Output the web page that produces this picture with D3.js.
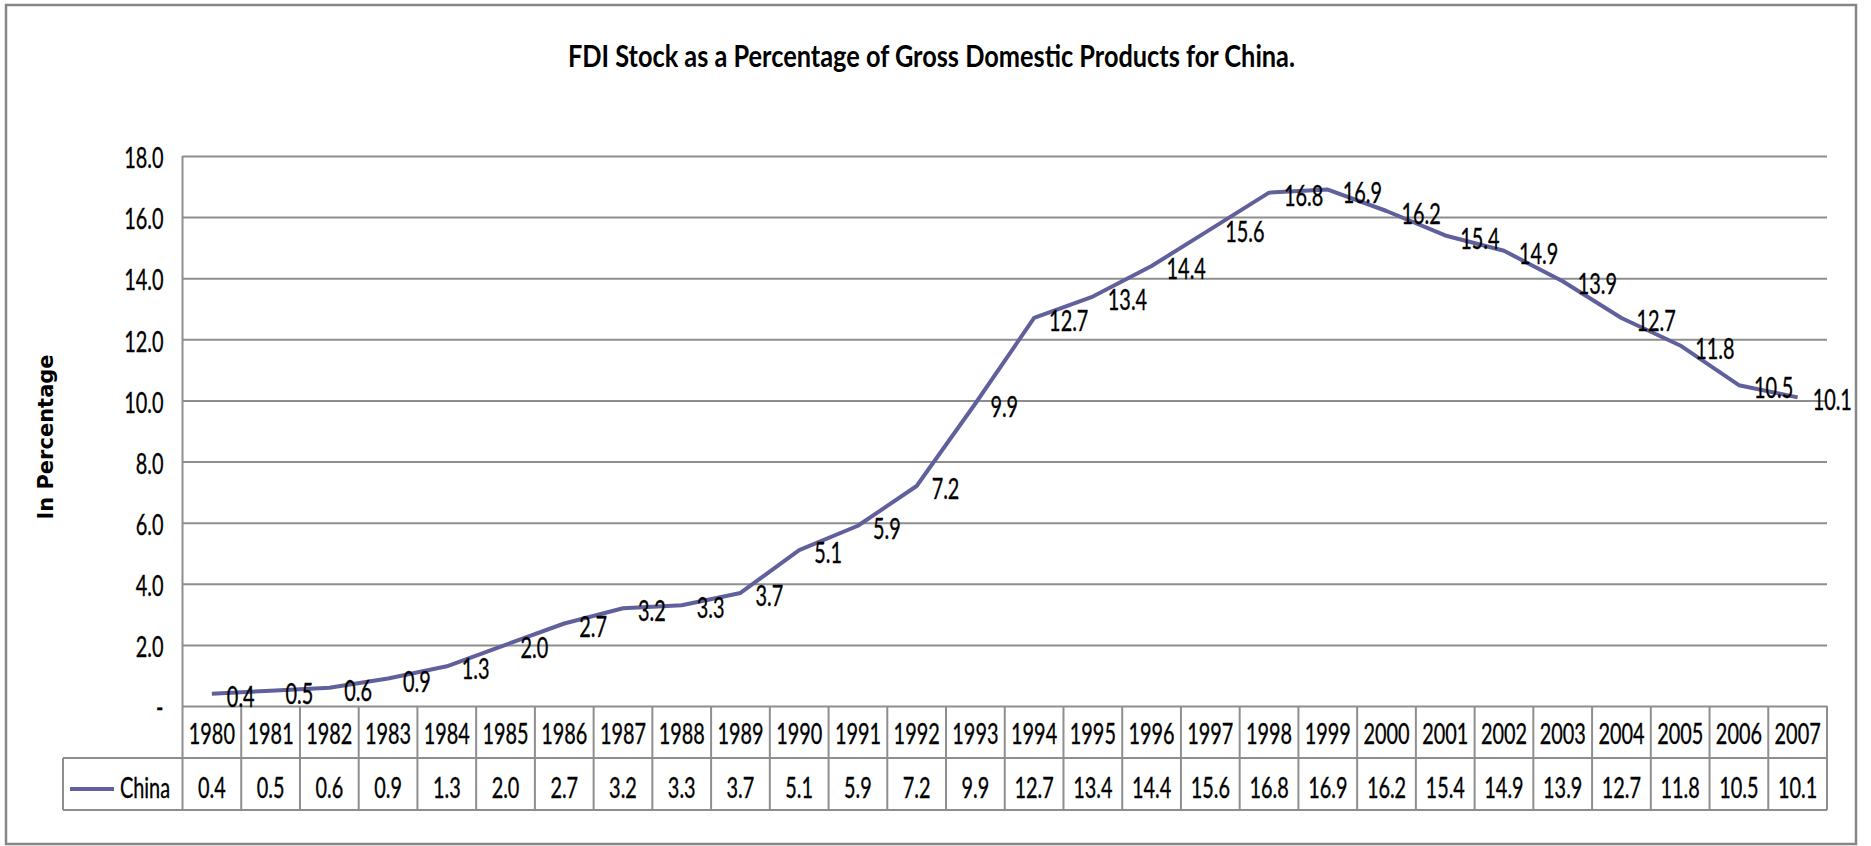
<!DOCTYPE html>
<html>
<head>
<meta charset="utf-8">
<script src="https://cdn.jsdelivr.net/npm/d3@7"></script>
<style>
    body { margin: 0; background: #fff; }
    svg { display: block; }
</style>
</head>
<body>
<svg id="chart"></svg>
<script>
    const years = ["1980", "1981", "1982", "1983", "1984", "1985", "1986", "1987", "1988", "1989",
        "1990", "1991", "1992", "1993", "1994", "1995", "1996", "1997", "1998", "1999",
        "2000", "2001", "2002", "2003", "2004", "2005", "2006", "2007"];
    const china = [0.4, 0.5, 0.6, 0.9, 1.3, 2.0, 2.7, 3.2, 3.3, 3.7,
        5.1, 5.9, 7.2, 9.9, 12.7, 13.4, 14.4, 15.6, 16.8, 16.9,
        16.2, 15.4, 14.9, 13.9, 12.7, 11.8, 10.5, 10.1];
    const yTicks = [0, 2, 4, 6, 8, 10, 12, 14, 16, 18];
    const seriesName = "China";
    const title = "FDI Stock as a Percentage of Gross Domestic Products for China.";
    const yLabel = "In Percentage";

    const svgWidth = 1871;
    const svgHeight = 846;
    const margin = { top: 156, right: 44, bottom: 140, left: 182.5 };
    const rowHeight = 52;
    const lineColor = "#60609c";
    const gridColor = "#8e8e8e";
    const font = "Lato, 'Open Sans', sans-serif";
    const fontSize = 28;
    const squeezeX = 0.71;

    const svg = d3.select("#chart")
        .attr("width", svgWidth)
        .attr("height", svgHeight);

    // squeeze text horizontally (the source text is tall and narrow)
    function squeeze(sel) {
        sel.each(function () {
            const t = d3.select(this);
            const x = +t.attr("x") || 0;
            const y = +t.attr("y") || 0;
            t.attr("x", 0).attr("y", 0)
                .attr("stroke", "#000")
                .attr("stroke-width", 0.35)
                .attr("transform", `translate(${x},${y}) scale(${squeezeX},1)`);
        });
    }

    // outer frame
    svg.append("rect")
        .attr("x", 6).attr("y", 5)
        .attr("width", 1850).attr("height", 839)
        .attr("fill", "none")
        .attr("stroke", "#868686")
        .attr("stroke-width", 2.5);

    svg.append("text")
        .attr("x", 568).attr("y", 66.5)
        .attr("font-family", font)
        .attr("font-weight", "bold")
        .attr("font-size", 30)
        .attr("textLength", 727)
        .attr("lengthAdjust", "spacingAndGlyphs")
        .text(title);

    svg.append("text")
        .attr("transform", "translate(53,437) rotate(-90)")
        .attr("text-anchor", "middle")
        .attr("font-family", "'DejaVu Sans', sans-serif")
        .attr("font-weight", "bold")
        .attr("font-size", 21)
        .text(yLabel);

    const xScale = d3.scaleBand()
        .domain(years)
        .range([margin.left, svgWidth - margin.right])
        .padding(0);

    const yScale = d3.scaleLinear()
        .domain([0, 18])
        .range([svgHeight - margin.bottom, margin.top]);

    const plotBottom = yScale(0);
    const tableBottom = plotBottom + rowHeight * 2;

    // gridlines
    svg.append("g")
        .attr("transform", `translate(${margin.left},0)`)
        .call(d3.axisLeft(yScale).tickValues(yTicks)
            .tickSize(-(svgWidth - margin.right - margin.left)).tickFormat(""))
        .call(g => g.select(".domain").remove())
        .selectAll("line")
        .attr("stroke", gridColor)
        .attr("stroke-width", 2);

    // y tick labels
    const yAxis = svg.append("g")
        .attr("transform", `translate(${margin.left},0)`)
        .call(d3.axisLeft(yScale).tickValues(yTicks).tickSize(0).tickPadding(19)
            .tickFormat(d => d === 0 ? "-" : d3.format(".1f")(d)));
    yAxis.select(".domain").remove();
    yAxis.selectAll("text")
        .attr("font-family", font)
        .attr("font-size", fontSize)
        .attr("fill", "#000")
        .attr("dy", "0.42em")
        .call(squeeze);

    // left axis line down through the year row
    svg.append("line")
        .attr("x1", margin.left).attr("x2", margin.left)
        .attr("y1", margin.top).attr("y2", tableBottom)
        .attr("stroke", gridColor).attr("stroke-width", 2);

    // data table
    const table = svg.append("g");
    const legendLeft = 63;

    table.append("line")
        .attr("x1", legendLeft).attr("x2", svgWidth - margin.right)
        .attr("y1", plotBottom + rowHeight).attr("y2", plotBottom + rowHeight)
        .attr("stroke", gridColor).attr("stroke-width", 2);
    table.append("line")
        .attr("x1", legendLeft).attr("x2", svgWidth - margin.right)
        .attr("y1", tableBottom).attr("y2", tableBottom)
        .attr("stroke", gridColor).attr("stroke-width", 2);
    table.append("line")
        .attr("x1", legendLeft).attr("x2", legendLeft)
        .attr("y1", plotBottom + rowHeight).attr("y2", tableBottom)
        .attr("stroke", gridColor).attr("stroke-width", 2);

    table.selectAll(".col-line")
        .data(years)
        .enter()
        .append("line")
        .attr("class", "col-line")
        .attr("x1", d => xScale(d) + xScale.bandwidth())
        .attr("x2", d => xScale(d) + xScale.bandwidth())
        .attr("y1", plotBottom)
        .attr("y2", tableBottom)
        .attr("stroke", gridColor)
        .attr("stroke-width", 2);

    table.selectAll(".year-label")
        .data(years)
        .enter()
        .append("text")
        .attr("class", "year-label")
        .attr("x", d => xScale(d) + xScale.bandwidth() / 2)
        .attr("y", plotBottom + 28)
        .attr("dy", "0.36em")
        .attr("text-anchor", "middle")
        .attr("font-family", font)
        .attr("font-size", fontSize)
        .text(d => d)
        .call(squeeze);

    table.selectAll(".value-label")
        .data(china)
        .enter()
        .append("text")
        .attr("class", "value-label")
        .attr("x", (d, i) => xScale(years[i]) + xScale.bandwidth() / 2)
        .attr("y", plotBottom + rowHeight + 30)
        .attr("dy", "0.36em")
        .attr("text-anchor", "middle")
        .attr("font-family", font)
        .attr("font-size", fontSize)
        .text(d => d3.format(".1f")(d))
        .call(squeeze);

    table.append("line")
        .attr("x1", 70).attr("x2", 114)
        .attr("y1", plotBottom + rowHeight + 31).attr("y2", plotBottom + rowHeight + 31)
        .attr("stroke", lineColor).attr("stroke-width", 4);
    table.append("text")
        .attr("x", 120)
        .attr("y", plotBottom + rowHeight + 30)
        .attr("dy", "0.36em")
        .attr("font-family", font)
        .attr("font-size", fontSize)
        .text(seriesName)
        .call(squeeze);

    // series line
    const line = d3.line()
        .x((d, i) => xScale(years[i]) + xScale.bandwidth() / 2)
        .y(d => yScale(d));

    svg.append("path")
        .datum(china)
        .attr("d", line)
        .attr("fill", "none")
        .attr("stroke", lineColor)
        .attr("stroke-width", 4)
        .attr("stroke-linejoin", "round");

    svg.selectAll(".point-label")
        .data(china)
        .enter()
        .append("text")
        .attr("class", "point-label")
        .attr("x", (d, i) => xScale(years[i]) + xScale.bandwidth() / 2 + 15)
        .attr("y", d => yScale(d) + 3)
        .attr("dy", "0.36em")
        .attr("font-family", font)
        .attr("font-size", fontSize)
        .text(d => d3.format(".1f")(d))
        .call(squeeze);
</script>
</body>
</html>
